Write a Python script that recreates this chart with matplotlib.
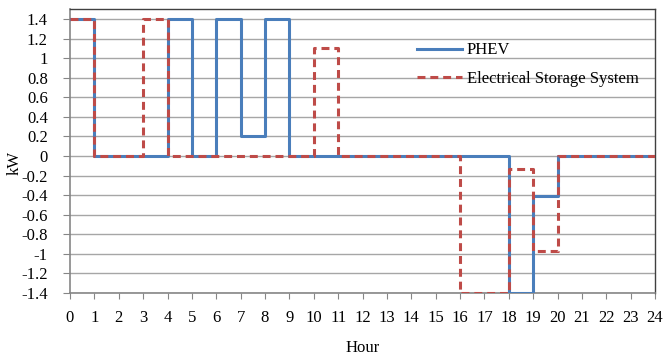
import matplotlib
matplotlib.use("Agg")
import matplotlib.pyplot as plt
import numpy as np

hours = list(range(24))
phev = [1.4, 0, 0, 0, 1.4, 0, 1.4, 0.2, 1.4, 0, 0, 0, 0, 0, 0, 0, 0, 0, -1.4, -0.41, 0, 0, 0, 0]
ess = [1.4, 0, 0, 1.4, 0, 0, 0, 0, 0, 0, 1.1, 0, 0, 0, 0, 0, -1.4, -1.4, -0.13, -0.97, 0, 0, 0, 0]
yticks = [1.4, 1.2, 1, 0.8, 0.6, 0.4, 0.2, 0, -0.2, -0.4, -0.6, -0.8, -1, -1.2, -1.4]

plt.rcParams['font.family'] = ['Liberation Serif', 'DejaVu Serif']

W, H = 666, 361
fig = plt.figure(figsize=(W/100, H/100), dpi=100)
ax = fig.add_axes([70/W, (H-293)/H, (655-70)/W, (293-9)/H])

x = hours + [24]
blue = '#4A7EBB'
red = '#BE4B48'
l1, = ax.step(x, phev + [phev[-1]], where='post', color=blue, lw=2.2, label='PHEV', zorder=3)
l2, = ax.step(x, ess + [ess[-1]], where='post', color=red, lw=2.2, linestyle=(0, (2.6, 1.6)),
              label='Electrical Storage System', zorder=4)

fs = 12
ax.set_xlim(0, 24)
ax.set_ylim(-1.4, 1.4 + 0.2 * 10 / 19.57)
ax.set_yticks(yticks)
ax.set_yticklabels([f'{v:g}' for v in yticks], fontsize=fs)
ax.set_xticks(range(25))
ax.set_xticklabels([str(h) for h in range(25)], fontsize=fs)
ax.grid(axis='y', color='#A6A6A6', lw=1)
ax.set_axisbelow(True)
ax.tick_params(axis='y', length=5, direction='out', color='#868686', pad=11)
ax.tick_params(axis='x', length=4, direction='out', color='#868686', pad=8)
for s in ['left', 'bottom']:
    ax.spines[s].set_color('#868686')
    ax.spines[s].set_linewidth(1.2)
for s in ['top', 'right']:
    ax.spines[s].set_color('#404040')
    ax.spines[s].set_linewidth(1)

ax.set_xlabel('Hour', fontsize=fs, labelpad=10)
ax.set_ylabel('kW', fontsize=fs)
ax.yaxis.set_label_coords((23 - 70) / 585, (293 - 163) / 284)

ax.legend(handles=[l1, l2], loc='upper left', bbox_to_anchor=(0.567, 0.935), frameon=False,
          fontsize=fs, handlelength=2.7, handletextpad=0.3, labelspacing=0.75)

fig.savefig('out.png', dpi=100)
